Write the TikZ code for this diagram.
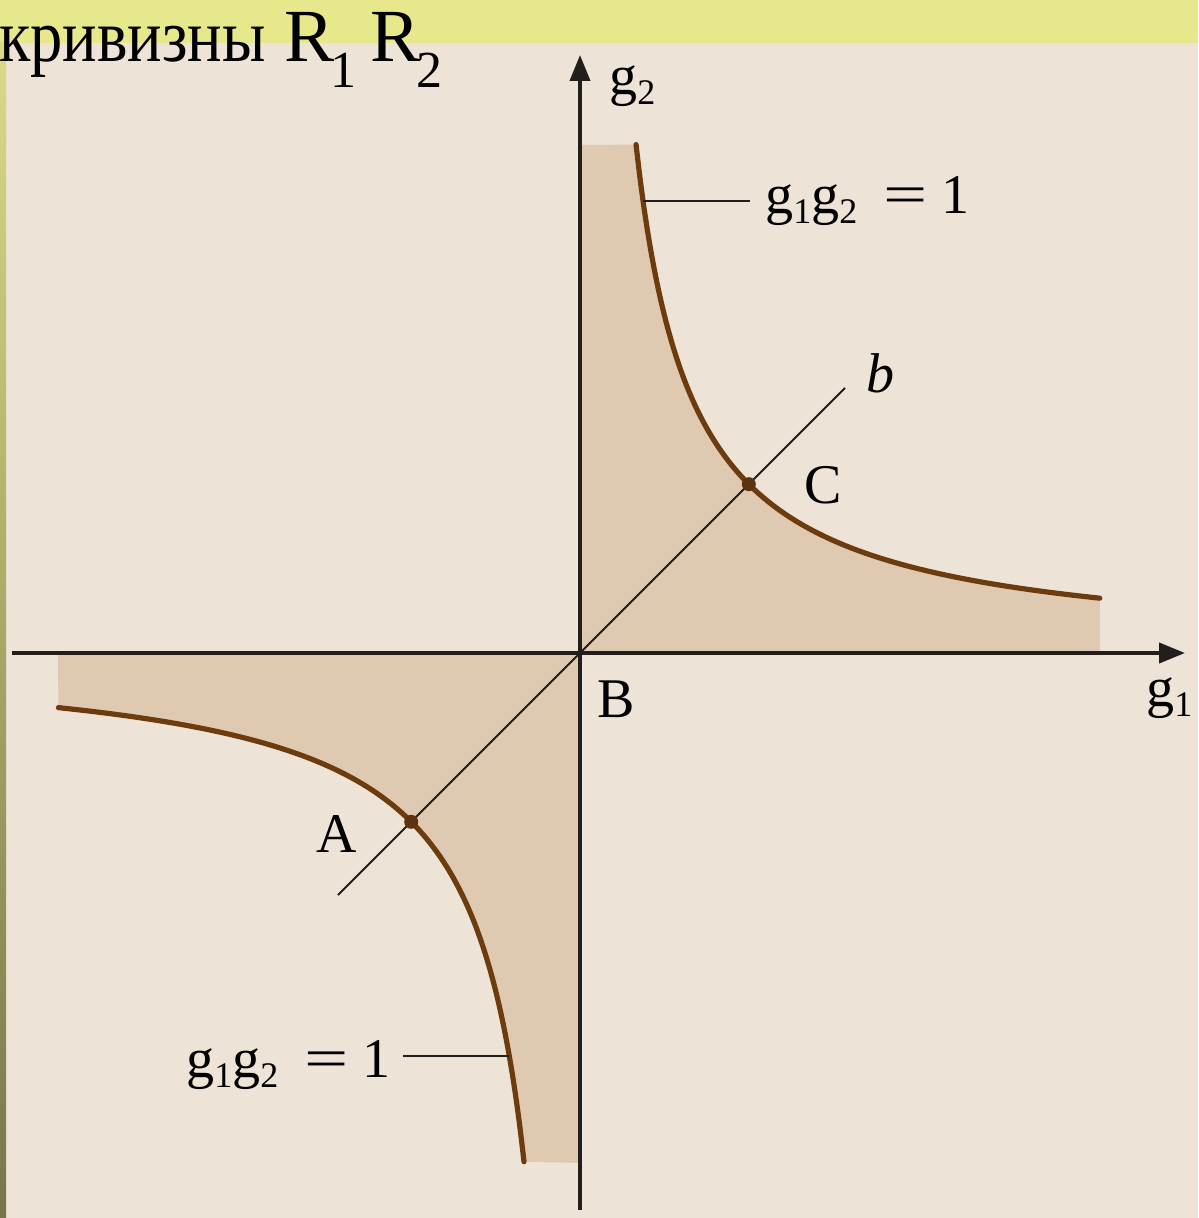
\documentclass[tikz,border=0pt]{standalone}
\usepackage{graphicx}
\usepackage{fontspec}
\setmainfont{Liberation Serif}
\newfontfamily\cyrnarrow[FakeStretch=0.86]{Liberation Serif}
\usetikzlibrary{arrows.meta}
\definecolor{bgc}{HTML}{EDE3D6}
\definecolor{topc}{HTML}{E7E78B}
\definecolor{stripTop}{HTML}{DADA86}
\definecolor{stripBot}{HTML}{76764C}
\definecolor{regionc}{HTML}{DFCAB1}
\definecolor{curvec}{HTML}{6C3C0E}
\definecolor{axisc}{HTML}{221E1B}
\definecolor{dotc}{HTML}{5C3310}
\newcommand\gsb[1]{g\raisebox{-5pt}{\fontsize{18}{18}\selectfont #1}}
\newcommand\eqlabel{\gsb{1}\gsb{2}\hspace{13pt}\scalebox{1.4}[1]{=}\hspace{7pt}1}
\newcommand\titlesub[1]{\raisebox{-13pt}{\fontsize{26}{26}\selectfont #1}}
\tikzset{
  axisline/.style={draw=axisc, line width=2pt, -{Triangle[length=13pt,width=10pt]}},
  hyper/.style={draw=curvec, line width=2.6pt, line cap=round},
  region/.style={fill=regionc},
  bline/.style={draw=axisc, line width=1pt},
  leader/.style={draw=axisc, line width=0.8pt},
  lbl/.style={inner sep=0pt, anchor=base west, text=black, font=\fontsize{28}{28}\selectfont},
  ptdot/.style={circle, fill=dotc, inner sep=0pt, minimum size=7pt},
}
\begin{document}
\begin{tikzpicture}[x=0.5pt,y=-0.5pt]
\useasboundingbox (0,0) rectangle (1198,1218);
% background
\fill[bgc] (0,0) rectangle (1198,1218);
\fill[topc] (0,0) rectangle (1198,43);
\shade[top color=stripTop, bottom color=stripBot] (0,43) rectangle (6,1218);
% shaded regions
\fill[region] (580,653) -- (580,145) -- plot[domain=0.332:3.08, samples=120, smooth] ({580+168.8*\x},{653-168.8/\x}) -- (1100,653) -- cycle;
\fill[region] (580,653) -- (58,653) -- plot[domain=-3.09:-0.331, samples=120, smooth] ({580+168.8*\x},{653-168.8/\x}) -- (580,1163) -- cycle;
% coordinates
\coordinate (B) at (580,653);
\coordinate (xs) at (12,653);
\coordinate (xe) at (1185,653);
\coordinate (ys) at (580,1210);
\coordinate (ye) at (580,55);
\coordinate (b1) at (338,895);
\coordinate (b2) at (845,388);
\coordinate (ctop) at (643,201);
\coordinate (cbot) at (509,1056);
\coordinate (ltop) at (750,201);
\coordinate (lbot) at (403,1056);
% line b
\draw[bline] (b1) -- (b2);
% axes
\draw[axisline] (xs) -- (xe);
\draw[axisline] (ys) -- (ye);
% hyperbolas
\draw[hyper] plot[domain=0.332:3.08, samples=120, smooth] ({580+168.8*\x},{653-168.8/\x});
\draw[hyper] plot[domain=-3.09:-0.331, samples=120, smooth] ({580+168.8*\x},{653-168.8/\x});
% points
\node[ptdot] (C) at (748.8,484.2) {};
\node[ptdot] (A) at (411.2,821.8) {};
% labels
\node[lbl] (g2lab) at (609,95) {\gsb{2}};
\node[lbl] (g1lab) at (1146,706) {\gsb{1}};
\node[lbl] (eqtop) at (765,214) {\eqlabel};
\node[lbl] (eqbot) at (186,1077) {\eqlabel};
\node[lbl] (blab) at (866,393) {\itshape b};
\node[lbl] (Clab) at (804,503) {C};
\node[lbl] (Blab) at (597,717) {B};
\node[lbl] (Alab) at (316,852) {A};
\draw[leader] (ctop) -- (ltop);
\draw[leader] (cbot) -- (lbot);
% title
\node[inner sep=0pt, anchor=base west, font=\fontsize{37.5}{37.5}\selectfont] (title) at (-1,62) {{\cyrnarrow кривизны} R\hspace{-2pt}\titlesub{1}\hspace{7pt}R\hspace{-2pt}\titlesub{2}};
\end{tikzpicture}
\end{document}
